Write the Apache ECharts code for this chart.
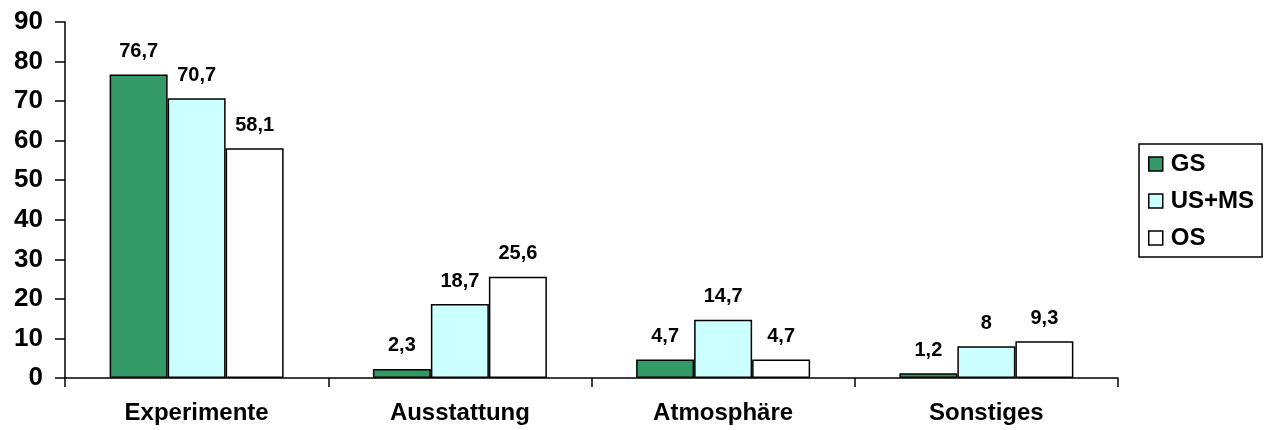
<!DOCTYPE html>
<html><head><meta charset="utf-8">
<script src="https://cdn.jsdelivr.net/npm/echarts@6/dist/echarts.min.js"></script>
<style>html,body{margin:0;padding:0;background:#fff}#c{width:1265px;height:430px}</style>
</head><body><div id="c"></div>
<script>
const categories = ['Experimente', 'Ausstattung', 'Atmosphäre', 'Sonstiges'];
const gs = [76.7, 2.3, 4.7, 1.2];
const usms = [70.7, 18.7, 14.7, 8];
const os = [58.1, 25.6, 4.7, 9.3];
const seriesNames = ['GS', 'US+MS', 'OS'];
const colors = ['#339966', '#CCFFFF', '#FFFFFF'];
const FONT = '"Liberation Sans", Arial, sans-serif';

const chart = echarts.init(document.getElementById('c'));
function mk(name, data, color) {
  return {
    name, type: 'bar', data, barWidth: 58, barGap: '0%',
    itemStyle: { color, borderColor: '#000', borderWidth: 1.5 },
    label: {
      show: true, position: 'top', distance: 13,
      fontFamily: FONT, fontWeight: 'bold', fontSize: 20, color: '#000',
      formatter: p => String(p.value).replace('.', ',')
    }
  };
}
chart.setOption({
  animation: false,
  grid: { left: 65, right: 147, top: 22, bottom: 52 },
  legend: {
    orient: 'vertical', left: 1139, top: 144,
    itemWidth: 14, itemHeight: 14, itemGap: 13,
    padding: [8, 8, 7, 9],
    borderColor: '#000', borderWidth: 1.5,
    icon: 'rect',
    itemStyle: { borderColor: '#000', borderWidth: 1.5 },
    textStyle: { fontFamily: FONT, fontWeight: 'bold', fontSize: 24, color: '#000', padding: [0, 0, 0, 3] },
    data: seriesNames
  },
  xAxis: {
    type: 'category', data: categories,
    axisLine: { lineStyle: { color: '#000', width: 1.5 } },
    axisTick: { show: true, length: 9, inside: false, lineStyle: { color: '#000', width: 1.5 } },
    axisLabel: { fontFamily: FONT, fontWeight: 'bold', fontSize: 24, color: '#000', margin: 23 }
  },
  yAxis: {
    type: 'value', min: 0, max: 90, interval: 10,
    splitLine: { show: false },
    axisLine: { show: true, lineStyle: { color: '#000', width: 1.5 } },
    axisTick: { show: true, length: 10, lineStyle: { color: '#000', width: 1.5 } },
    axisLabel: { fontFamily: FONT, fontWeight: 'bold', fontSize: 26, color: '#000', margin: 22 }
  },
  series: [mk(seriesNames[0], gs, colors[0]), mk(seriesNames[1], usms, colors[1]), mk(seriesNames[2], os, colors[2])]
});
</script></body></html>
